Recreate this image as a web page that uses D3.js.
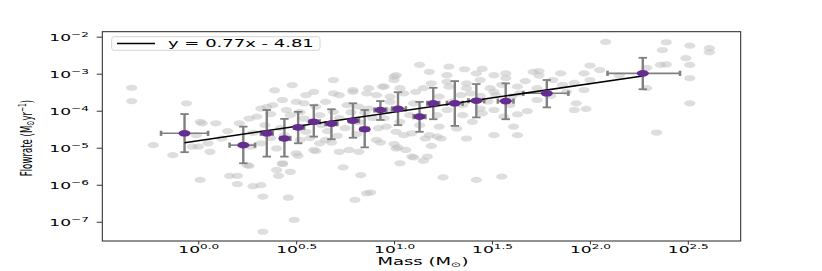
<!DOCTYPE html>
<html>
<head>
<meta charset="utf-8">
<script src="https://cdn.jsdelivr.net/npm/d3@7"></script>
<style>
  body { margin: 0; background: #fff; }
  text { font-family: "DejaVu Sans", sans-serif; fill: #000; }
</style>
</head>
<body>
<div id="chart"></div>
<script>
// all values are log10 (mass in Msun, flowrate in Msun/yr)

// individual clumps (grey cloud)
const cloudMass = [
  -0.34,-0.34,-0.23,-0.13,-0.06,0.01,0.01,0.02,0.09,0.00,0.05,-0.01,0.06,0.16,0.20,0.20,0.28,0.32,0.33,0.46,
  0.49,0.33,0.26,0.40,0.41,0.47,0.43,0.51,0.60,0.72,0.74,0.83,0.80,0.86,0.88,0.93,1.02,1.03,1.10,0.82,
  0.68,0.52,0.62,0.55,0.32,0.21,0.26,0.30,0.37,0.38,0.43,0.50,0.55,0.59,0.65,0.69,0.27,0.40,0.50,0.59,
  0.65,0.43,0.25,0.39,0.48,0.35,0.45,0.54,0.72,0.79,0.86,0.91,0.95,1.00,1.00,0.98,0.82,0.76,0.69,0.62,
  0.54,0.47,0.60,0.69,1.01,1.13,1.18,1.27,1.42,1.51,1.57,1.71,0.79,0.87,0.94,1.11,1.39,1.51,1.64,1.06,
  1.17,1.01,0.77,1.63,1.51,1.37,1.32,1.22,1.01,0.91,2.08,2.39,2.37,2.51,2.61,2.61,2.49,2.36,2.39,2.51,
  2.29,2.51,2.29,2.51,2.34,2.00,1.85,1.97,2.00,1.97,1.92,1.88,1.93,1.92,1.98,1.74,1.74,1.81,1.73,1.63,
  1.73,1.68,1.63,1.45,1.36,1.28,1.19,1.27,1.28,1.37,1.37,1.44,1.49,1.57,1.03,1.05,1.15,1.23,1.34,1.44,
  1.52,1.60,0.98,1.35,1.44,1.51,1.59,1.27,1.22,1.08,0.96,1.03,1.13,1.23,1.35,1.45,1.56,1.61,1.24,1.18,
  1.05,0.96,1.09,1.16,1.19,1.00,1.09,1.15,1.25,1.42,1.55,-0.03,0.34,0.42,0.52,0.63,0.75,0.82,0.89,0.81,
  0.71,0.57,0.44,0.37,0.78,0.87,0.92,0.32,0.52,0.72,0.15,0.12,0.28,0.58,0.66,0.85,0.95,1.10,1.20,1.30,
  1.40,1.48,1.55,1.67,1.80,1.86,2.05,2.15
];
const cloudRate = [
  -3.38,-3.74,-4.93,-5.20,-3.80,-5.87,-4.30,-4.34,-4.34,-4.97,-4.88,-4.66,-5.11,-5.76,-5.76,-5.98,-6.04,-6.01,-6.32,-6.35,
  -6.95,-7.27,-5.49,-5.60,-5.76,-5.65,-5.44,-5.22,-5.09,-5.11,-5.53,-5.74,-6.41,-6.23,-6.21,-4.86,-4.99,-5.42,-5.26,-5.11,
  -4.86,-4.79,-4.88,-4.57,-4.88,-4.34,-4.21,-4.16,-4.09,-3.85,-3.71,-3.76,-3.58,-3.49,-3.76,-3.53,-4.97,-5.02,-5.15,-5.06,
  -4.79,-5.42,-5.47,-3.45,-3.31,-3.90,-3.98,-3.80,-3.58,-3.44,-3.53,-3.58,-3.35,-3.08,-3.17,-3.76,-3.89,-3.85,-4.03,-4.12,
  -4.21,-4.12,-3.89,-3.17,-3.04,-2.76,-2.95,-3.04,-2.99,-3.04,-2.99,-2.95,-3.49,-3.39,-3.35,-3.49,-3.53,-3.49,-3.53,-5.06,
  -5.24,-5.02,-5.06,-4.66,-4.66,-4.75,-4.48,-4.70,-4.57,-4.79,-2.14,-2.15,-2.36,-2.24,-2.31,-2.42,-2.58,-2.76,-2.75,-2.76,
  -2.84,-3.12,-3.39,-3.80,-4.59,-2.78,-2.99,-2.99,-3.17,-3.44,-3.25,-3.49,-3.80,-3.98,-3.95,-2.93,-3.05,-3.17,-3.39,-3.35,
  -3.71,-4.01,-4.10,-2.87,-2.88,-2.81,-3.26,-3.22,-3.35,-3.26,-3.39,-3.17,-3.39,-3.12,-3.39,-3.53,-3.39,-3.62,-3.58,-3.60,
  -3.58,-3.62,-3.62,-3.85,-3.94,-3.98,-3.85,-3.98,-4.12,-4.12,-3.98,-4.30,-4.39,-4.43,-4.12,-4.07,-4.16,-4.43,-4.75,-4.66,
  -4.66,-4.43,-4.61,-4.75,-4.95,-4.90,-5.24,-5.35,-5.80,-5.87,-5.78,-4.97,-4.39,-4.47,-4.44,-4.39,-4.47,-4.31,-4.20,-4.63,
  -4.68,-4.74,-4.66,-4.74,-4.04,-3.94,-4.47,-3.94,-4.04,-4.20,-4.55,-4.75,-4.60,-4.30,-4.55,-4.05,-4.20,-3.80,-3.85,-3.75,
  -4.30,-3.75,-3.30,-3.20,-3.60,-3.30,-2.90,-3.05
];

// binned medians with ranges
const binMass   = [-0.07,0.23,0.35,0.44,0.51,0.59,0.68,0.79,0.85,0.93,1.02,1.13,1.20,1.31,1.42,1.57,1.78,2.27];
const binMassLo = [-0.19,0.16,0.32,0.42,0.49,0.57,0.65,0.77,0.83,0.90,0.99,1.10,1.17,1.27,1.38,1.53,1.66,2.09];
const binMassHi = [0.05,0.29,0.38,0.47,0.54,0.62,0.71,0.82,0.87,0.96,1.06,1.16,1.23,1.35,1.46,1.61,1.89,2.46];
const binRate   = [-4.61,-4.93,-4.61,-4.75,-4.45,-4.30,-4.35,-4.27,-4.50,-3.98,-3.95,-4.16,-3.80,-3.80,-3.73,-3.74,-3.53,-2.99];
const binRateLo = [-5.12,-5.42,-5.24,-5.24,-4.88,-4.70,-4.77,-4.73,-4.99,-4.25,-4.39,-4.57,-4.23,-4.41,-4.18,-4.23,-3.91,-3.42];
const binRateHi = [-4.09,-4.43,-3.98,-4.22,-4.03,-3.85,-3.96,-3.80,-3.98,-3.74,-3.50,-3.76,-3.38,-3.20,-3.28,-3.26,-3.17,-2.57];

// fit
const fitSlope = 0.77;
const fitIntercept = -4.81;
const legendLabel = "y = 0.77x - 4.81";

const xTicks = [0, 0.5, 1, 1.5, 2, 2.5];
const yTicks = [-2, -3, -4, -5, -6, -7];

const W = 822, H = 271;
const SX = 1.8; // the figure is stretched sideways, so is every label

const svg = d3.select("#chart").append("svg")
  .attr("width", W)
  .attr("height", H);

const x = d3.scaleLinear().domain([-0.49, 2.77]).range([102.3, 740.7]);
const y = d3.scaleLinear().domain([-1.865, -7.52]).range([31.7, 241]);

// grey cloud
svg.append("g")
  .selectAll("ellipse")
  .data(d3.zip(cloudMass, cloudRate))
  .enter()
  .append("ellipse")
  .attr("cx", d => x(d[0]))
  .attr("cy", d => y(d[1]))
  .attr("rx", 5.6)
  .attr("ry", 3.1)
  .attr("fill", "#bdbdbd")
  .attr("fill-opacity", 0.5);

const bins = binMass.map((m, i) => ({
  m: m, mlo: binMassLo[i], mhi: binMassHi[i],
  r: binRate[i], rlo: binRateLo[i], rhi: binRateHi[i]
}));

// error bars
const eb = svg.append("g").attr("stroke", "#808080").attr("fill", "none");
eb.selectAll(".ev").data(bins).enter().append("line")
  .attr("x1", d => x(d.m)).attr("x2", d => x(d.m))
  .attr("y1", d => y(d.rlo)).attr("y2", d => y(d.rhi))
  .attr("stroke-width", 2.4);
eb.selectAll(".eh").data(bins).enter().append("line")
  .attr("x1", d => x(d.mlo)).attr("x2", d => x(d.mhi))
  .attr("y1", d => y(d.r)).attr("y2", d => y(d.r))
  .attr("stroke-width", 1.6);
// caps
[["rlo"], ["rhi"]].forEach(k => {
  eb.selectAll(".c" + k).data(bins).enter().append("line")
    .attr("x1", d => x(d.m) - 4.2).attr("x2", d => x(d.m) + 4.2)
    .attr("y1", d => y(d[k])).attr("y2", d => y(d[k]))
    .attr("stroke-width", 1.8);
});
["mlo", "mhi"].forEach(k => {
  eb.selectAll(".c" + k).data(bins).enter().append("line")
    .attr("x1", d => x(d[k])).attr("x2", d => x(d[k]))
    .attr("y1", d => y(d.r) - 2.6).attr("y2", d => y(d.r) + 2.6)
    .attr("stroke-width", 2.6);
});

// fit line
const fx = [binMass[0], binMass[binMass.length - 1]];
svg.append("path")
  .attr("d", d3.line()(fx.map(v => [x(v), y(fitSlope * v + fitIntercept)])))
  .attr("stroke", "#000")
  .attr("stroke-width", 1.5)
  .attr("fill", "none");

// medians
svg.append("g")
  .selectAll("ellipse")
  .data(bins)
  .enter()
  .append("ellipse")
  .attr("cx", d => x(d.m))
  .attr("cy", d => y(d.r))
  .attr("rx", 6)
  .attr("ry", 3.3)
  .attr("fill", "#662d91");

// frame
svg.append("rect")
  .attr("x", 102.3).attr("y", 31.7)
  .attr("width", 638.4).attr("height", 209.3)
  .attr("fill", "none")
  .attr("stroke", "#222")
  .attr("stroke-width", 1);

// axes
const xAxis = svg.append("g")
  .attr("transform", "translate(0,241)")
  .call(d3.axisBottom(x).tickValues(xTicks).tickSize(3.5).tickSizeOuter(0));
const yAxis = svg.append("g")
  .attr("transform", "translate(102.3,0)")
  .call(d3.axisLeft(y).tickValues(yTicks).tickSize(5.6).tickSizeOuter(0));

[xAxis, yAxis].forEach(a => {
  a.select(".domain").remove();
  a.selectAll(".tick line").attr("stroke", "#333");
});

const power = (sel, fmt) => {
  sel.each(function (d) {
    const t = d3.select(this).text("");
    t.append("tspan").attr("font-size", 9.5).text("10");
    t.append("tspan").attr("font-size", 6.7).attr("dy", -4).text(fmt(d));
  });
};

xAxis.selectAll(".tick text")
  .attr("y", 12).attr("dy", 0)
  .attr("text-anchor", "middle")
  .attr("transform", `scale(${SX},1)`)
  .call(power, d => d3.format(".1f")(d));

yAxis.selectAll(".tick text")
  .attr("x", -13.5 / SX).attr("y", 3.6).attr("dy", 0)
  .attr("text-anchor", "end")
  .attr("transform", `scale(${SX},1)`)
  .call(power, d => d3.format("d")(d).replace("-", "\u2212"));

// axis titles
const xl = svg.append("text")
  .attr("transform", `translate(423,265) scale(${SX},1)`)
  .attr("text-anchor", "middle")
  .attr("font-size", 10);
xl.append("tspan").text("Mass (M");
xl.append("tspan").attr("font-size", 7).attr("dy", 1.5).text("\u2299");
xl.append("tspan").attr("dy", -1.5).text(")");

const yl = svg.append("text")
  .attr("transform", `translate(32,138) scale(${SX},1) rotate(-90)`)
  .attr("text-anchor", "middle")
  .attr("font-size", 8.6);
yl.append("tspan").text("Flowrate (M");
yl.append("tspan").attr("font-size", 6).attr("dy", 1.3).text("\u2299");
yl.append("tspan").attr("dy", -1.3).text("yr");
yl.append("tspan").attr("font-size", 6).attr("dy", -3.5).text("\u22121");
yl.append("tspan").attr("dy", 3.5).text(")");

// legend
const lg = svg.append("g");
lg.append("rect")
  .attr("x", 111.7).attr("y", 36.7)
  .attr("width", 208.3).attr("height", 13.6)
  .attr("rx", 2.5)
  .attr("fill", "#fff").attr("fill-opacity", 0.8)
  .attr("stroke", "#d0d0d0").attr("stroke-width", 0.9);
lg.append("path")
  .attr("d", d3.line()([[117, 43.5], [155, 43.5]]))
  .attr("stroke", "#000").attr("stroke-width", 1.5);
lg.append("text")
  .attr("transform", `translate(168,47.1) scale(${SX},1)`)
  .attr("font-size", 10)
  .text(legendLabel);
</script>
</body>
</html>
